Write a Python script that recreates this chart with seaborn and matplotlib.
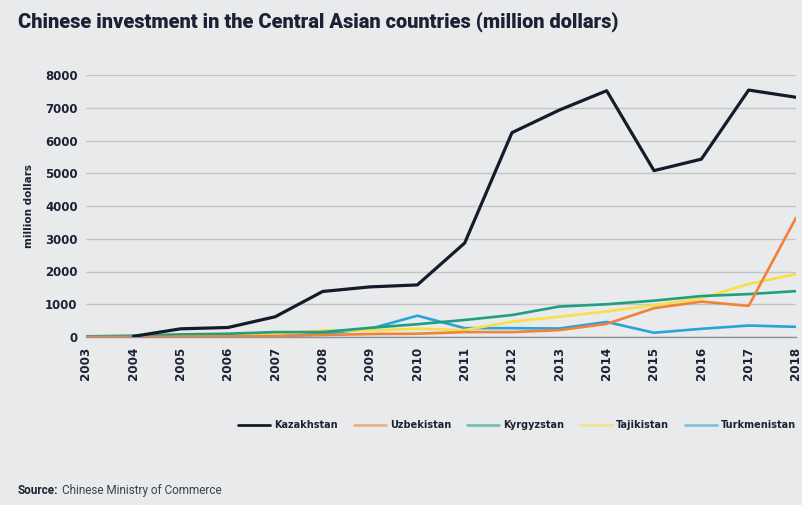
"""
Chinese investment in the Central Asian countries - line chart
"""
import numpy as np
import pandas as pd
import matplotlib
matplotlib.use('Agg')
import matplotlib.pyplot as plt
from matplotlib.ticker import MultipleLocator
import seaborn as sns

years = list(range(2003, 2019))
kazakhstan = [np.nan, 20, 250, 290, 620, 1390, 1530, 1590, 2870, 6240, 6930, 7520, 5080, 5430, 7540, 7320]
uzbekistan = [0, 5, 10, 20, 30, 60, 90, 100, 150, 150, 210, 400, 880, 1080, 950, 3640]
kyrgyzstan = [20, 40, 80, 100, 150, 150, 280, 390, 520, 670, 930, 1000, 1110, 1250, 1310, 1400]
tajikistan = [10, 20, 40, 60, 100, 200, 200, 250, 210, 470, 620, 780, 970, 1180, 1620, 1920]
turkmenistan = [10, 10, 10, 10, 10, 100, 250, 650, 270, 270, 260, 460, 130, 250, 350, 310]

countries = ['Kazakhstan', 'Uzbekistan', 'Kyrgyzstan', 'Tajikistan', 'Turkmenistan']
series = [kazakhstan, uzbekistan, kyrgyzstan, tajikistan, turkmenistan]
palette = {'Kazakhstan': '#161b2b', 'Uzbekistan': '#f0823a', 'Kyrgyzstan': '#1f9e80',
           'Tajikistan': '#f7df45', 'Turkmenistan': '#27a5d8'}

BG = '#e9eaec'
NAVY = '#1c2233'
W, H = 802, 505

df = pd.DataFrame({
    'year': np.tile(years, len(countries)),
    'value': np.concatenate(series),
    'country': np.repeat(countries, len(years)),
})

sns.set_style('white')
plt.rcParams['font.family'] = ['Roboto', 'DejaVu Sans']

fig = plt.figure(figsize=(W / 100, H / 100), dpi=100, facecolor=BG)
ax = fig.add_axes([86 / W, 1 - 337 / H, 710 / W, 262 / H])
ax.set_facecolor(BG)

# smaller series first so Kazakhstan sits on top
for c in reversed(countries):
    sub = df[df['country'] == c]
    sns.lineplot(data=sub, x='year', y='value', color=palette[c],
                 linewidth=2.3 if c == 'Kazakhstan' else 1.9, ax=ax, label=c,
                 zorder=3)

ax.set_xlim(2003, 2018)
ax.set_ylim(0, 8000)
ax.yaxis.set_major_locator(MultipleLocator(1000))
ax.set_xticks(years)
ax.xaxis.set_minor_locator(MultipleLocator(0.5))
ax.grid(axis='y', color='#c3c5c8', linewidth=1.0)
ax.set_axisbelow(True)
for s in ['top', 'right', 'left']:
    ax.spines[s].set_visible(False)
ax.spines['bottom'].set_color('#8a93a3')
ax.spines['bottom'].set_linewidth(1.0)

ax.tick_params(axis='x', which='both', length=4, color='#8a93a3', width=1, pad=3)
ax.tick_params(axis='y', length=0, pad=6)
ax.set_xticklabels([str(y) for y in years], rotation=90, fontsize=8.6,
                   fontweight='bold', color=NAVY, family='DejaVu Sans')
for lbl in ax.get_yticklabels():
    lbl.set_fontsize(8.5)
    lbl.set_fontweight('bold')
    lbl.set_color(NAVY)
    lbl.set_family('DejaVu Sans')
ax.set_xlabel('')
ax.set_ylabel('million dollars', fontsize=7.5, color=NAVY, fontweight='bold',
              family='DejaVu Sans', labelpad=8)

# legend in the original order
handles, labels = ax.get_legend_handles_labels()
order = [labels.index(c) for c in countries]
ax.get_legend().remove()
leg = fig.legend([handles[i] for i in order], countries, loc='center right',
                 bbox_to_anchor=(1.0, 1 - 425 / H), ncol=5, frameon=False,
                 handlelength=3.3, handletextpad=0.4, columnspacing=1.65,
                 borderaxespad=0.2,
                 prop={'family': 'DejaVu Sans', 'size': 7, 'weight': 'bold'})
for t in leg.get_texts():
    t.set_color(NAVY)
for h in leg.get_lines():
    h.set_linewidth(2)
    h.set_alpha(0.55)
leg.get_lines()[0].set_alpha(1)

title = fig.text(18 / W, 1 - 28 / H,
                 'Chinese investment in the Central Asian countries (million dollars)',
                 fontsize=15, fontweight='black', color=NAVY, va='baseline', ha='left')

# shrink the title until it spans the same width as the reference
renderer = fig.canvas.get_renderer()
tw = title.get_window_extent(renderer).width
if tw > 601:
    title.set_fontsize(15 * 601 / tw)

src = fig.text(18 / W, 1 - 494 / H, 'Source:', fontsize=8.5, fontweight='bold',
               color=NAVY, va='baseline', ha='left')
sx = src.get_window_extent(renderer).x1
fig.text((sx + 4) / W, 1 - 494 / H, 'Chinese Ministry of Commerce', fontsize=8.5,
         color='#3a4050', va='baseline', ha='left')

fig.savefig('out.png', dpi=100, facecolor=BG)
